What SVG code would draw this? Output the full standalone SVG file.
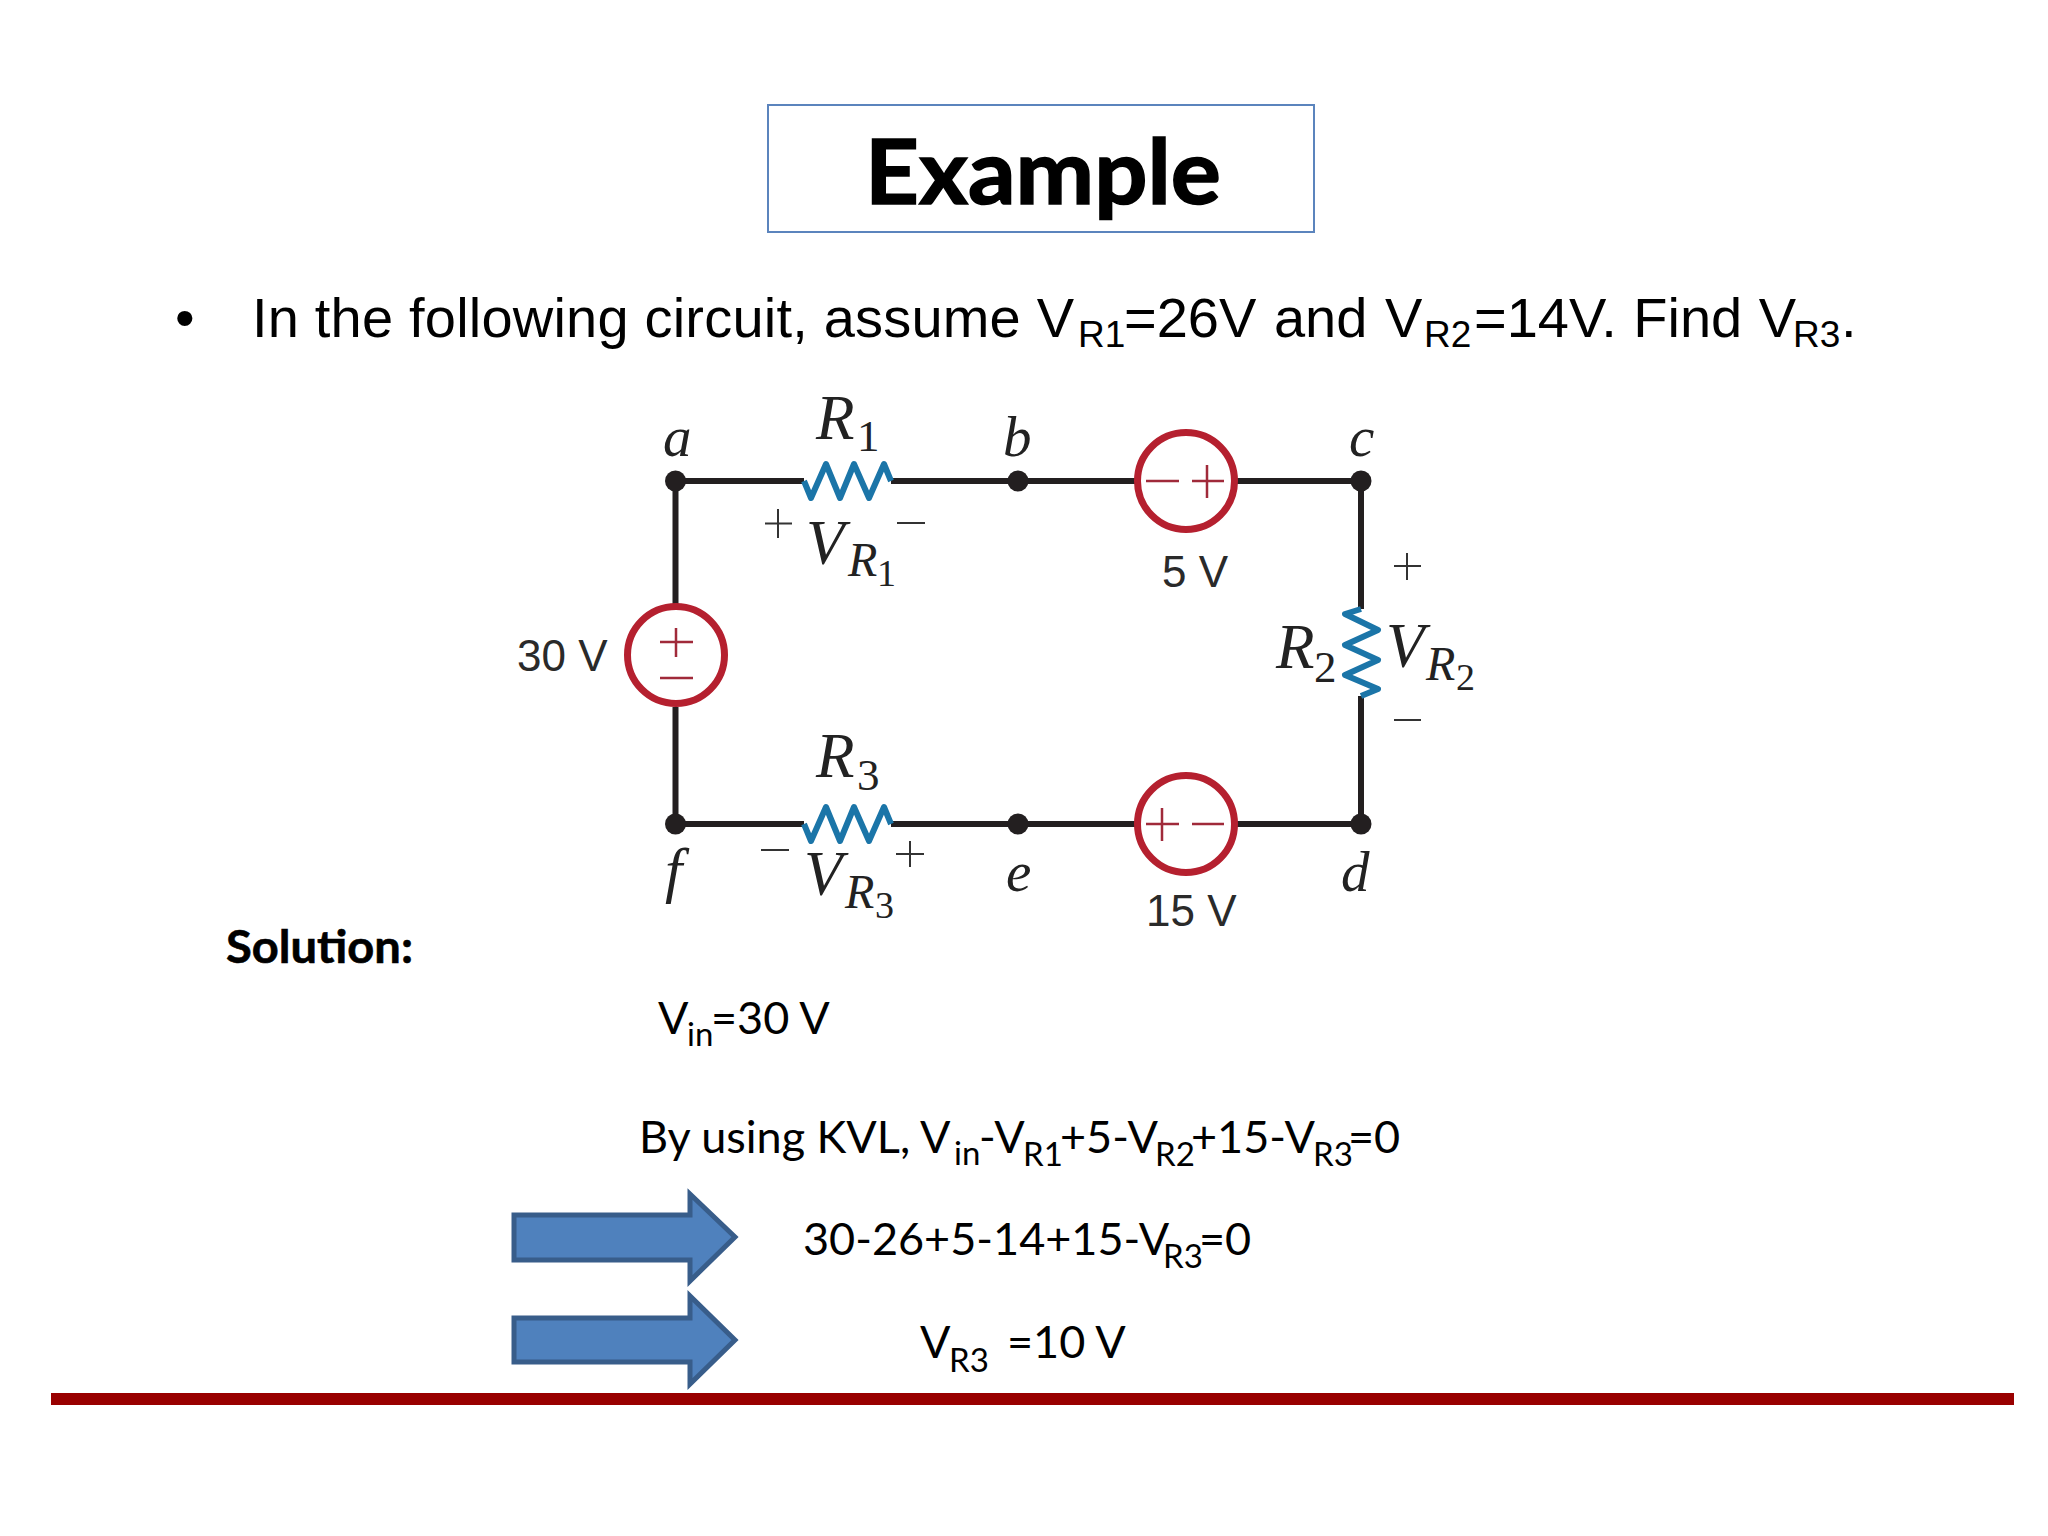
<svg xmlns="http://www.w3.org/2000/svg" xmlns:xlink="http://www.w3.org/1999/xlink" width="2048" height="1536" viewBox="0 0 2048 1536">
<style>
.w{fill:none;stroke:#231f20;stroke-width:6}
.z{fill:none;stroke:#1b75a8;stroke-width:6;stroke-linejoin:round}
.src{fill:none;stroke:#b5202f;stroke-width:7}
.sg{fill:none;stroke:#a02a3a;stroke-width:2.5}
.pm{fill:none;stroke:#333;stroke-width:2}
.dot{fill:#231f20}
.it{font-family:"Liberation Serif",serif;font-style:italic;fill:#222}
.n{font-size:57px}.R{font-size:63px}.s1{font-size:48px}.s2{font-size:38px}
.num{font-family:"Liberation Serif",serif;fill:#222;font-size:45px}
.v{font-family:"Liberation Sans",Arial,sans-serif;font-size:44px;fill:#2a2a2a}
.l{font-family:Lato,sans-serif;font-size:45px;fill:#000}
.ls{font-size:33px}
.a{font-family:"Liberation Sans",Arial,sans-serif;font-size:56px;fill:#000}
.as{font-size:37px}
.arrow{fill:#4f81bd;stroke:#385d8a;stroke-width:5}
</style>
<defs>
<polyline id="zigh" class="z" points="804,0 811,17 826,-17 840,17 854,-17 869,17 884,-17 891,0"/>
</defs>
<rect width="2048" height="1536" fill="#ffffff"/>

<g id="title">
<rect x="768" y="105" width="546" height="127" fill="#fff" stroke="#5b84bd" stroke-width="2"/>
<text x="865" y="204" font-family="Lato,sans-serif" font-weight="700" font-size="89" textLength="356" lengthAdjust="spacingAndGlyphs" fill="#000" stroke="#000" stroke-width="1.500">Example</text>
</g>

<g id="question">
<text class="a" x="175" y="337">•</text>
<text class="a" y="337"><tspan x="252" letter-spacing="0.200">In the following circuit, assume V</tspan><tspan x="1078" y="347" class="as">R1</tspan><tspan x="1124" y="337" word-spacing="2">=26V and V</tspan><tspan x="1424" y="347" class="as">R2</tspan><tspan x="1474" y="337" word-spacing="1">=14V. Find V</tspan><tspan x="1793" y="347" class="as">R3</tspan><tspan x="1841" y="337">.</tspan></text>
</g>

<g id="connectors">
<path class="w" d="M675.500 481H804M891 481H1135M1237 481H1361V609M1361 696V824H1237M1135 824H891M804 824H675.500V707M675.500 604V481"/>
</g>

<g id="node-a"><circle class="dot" cx="675.500" cy="481" r="10.500"/><text class="it n" x="663" y="456">a</text></g>
<g id="node-b"><circle class="dot" cx="1018" cy="481" r="10.500"/><text class="it n" x="1003" y="456">b</text></g>
<g id="node-c"><circle class="dot" cx="1361" cy="481" r="10.500"/><text class="it n" x="1349" y="456">c</text></g>
<g id="node-d"><circle class="dot" cx="1361" cy="824" r="10.500"/><text class="it n" x="1341" y="891">d</text></g>
<g id="node-e"><circle class="dot" cx="1018" cy="824" r="10.500"/><text class="it n" x="1006" y="891">e</text></g>
<g id="node-f"><circle class="dot" cx="675.500" cy="824" r="10.500"/><text class="it" x="665" y="891" style="font-size:62px">f</text></g>

<g id="R1">
<use xlink:href="#zigh" href="#zigh" y="481"/>
<text class="it R" x="816" y="439">R</text><text class="num" x="857" y="451">1</text>
<path class="pm" d="M765 523.500H792M778 509V538M897 523H925"/>
<text class="it R" x="806" y="564">V</text><text class="it s1" x="848" y="576">R</text><text class="num s2" x="877" y="586" style="font-size:38px">1</text>
</g>
<g id="R3">
<use xlink:href="#zigh" href="#zigh" y="824"/>
<text class="it R" x="816" y="777">R</text><text class="num" x="857" y="790">3</text>
<path class="pm" d="M761 850H789M896 854H924M910 841V867"/>
<text class="it R" x="804" y="895">V</text><text class="it s1" x="845" y="908">R</text><text class="num s2" x="875" y="918" style="font-size:38px">3</text>
</g>
<g id="R2">
<polyline class="z" points="1361,609 1345,614 1378,630 1345,645 1378,660 1345,675 1378,689 1361,696"/>
<text class="it R" x="1276" y="668">R</text><text class="num" x="1314" y="682">2</text>
<path class="pm" d="M1394 566H1421M1407 553V580M1394 720H1421"/>
<text class="it R" x="1386" y="667">V</text><text class="it s1" x="1426" y="680">R</text><text class="num s2" x="1456" y="690" style="font-size:38px">2</text>
</g>

<g id="source-30V">
<circle class="src" cx="676" cy="655" r="48.500"/>
<path class="sg" d="M660 642H693M676 628V657M660 678H693"/>
<text class="v" x="517" y="671">30 V</text>
</g>
<g id="source-5V">
<circle class="src" cx="1186" cy="481" r="48.500"/>
<path class="sg" d="M1146 481H1179M1192 481H1224M1207 465V498"/>
<text class="v" x="1162" y="587">5 V</text>
</g>
<g id="source-15V">
<circle class="src" cx="1186" cy="824" r="48.500"/>
<path class="sg" d="M1146 824H1179M1162 808V841M1192 824H1224"/>
<text class="v" x="1146" y="926">15 V</text>
</g>

<g id="solution">
<text x="226" y="963" font-family="Lato,sans-serif" font-weight="700" font-size="45" textLength="187" lengthAdjust="spacingAndGlyphs" fill="#000" stroke="#000" stroke-width="0.600">Solution:</text>
<text class="l" y="1034"><tspan x="658">V</tspan><tspan x="687" y="1046" class="ls">in</tspan><tspan x="711" y="1034">=30 V</tspan></text>
<text class="l" y="1153"><tspan x="639">By using KVL, V</tspan><tspan x="954" y="1165" class="ls">in</tspan><tspan x="979" y="1153">-V</tspan><tspan x="1023" y="1166" class="ls">R1</tspan><tspan x="1060" y="1153">+5-V</tspan><tspan x="1155" y="1166" class="ls">R2</tspan><tspan x="1191" y="1153">+15-V</tspan><tspan x="1313" y="1166" class="ls">R3</tspan><tspan x="1348" y="1153">=0</tspan></text>
<text class="l" y="1255"><tspan x="803">30-26+5-14+15-V</tspan><tspan x="1163" y="1268" class="ls">R3</tspan><tspan x="1199" y="1255">=0</tspan></text>
<text class="l" y="1358"><tspan x="920">V</tspan><tspan x="949" y="1372" class="ls">R3</tspan><tspan x="1007" y="1358">=10 V</tspan></text>
</g>

<g id="arrow-1"><polygon class="arrow" points="514,1215 690,1215 690,1194 735,1237 690,1281 690,1260 514,1260"/></g>
<g id="arrow-2"><polygon class="arrow" points="514,1318 690,1318 690,1296 735,1340 690,1384 690,1362 514,1362"/></g>

<rect id="rule" x="51" y="1393" width="1963" height="12" fill="#990000"/>
</svg>
